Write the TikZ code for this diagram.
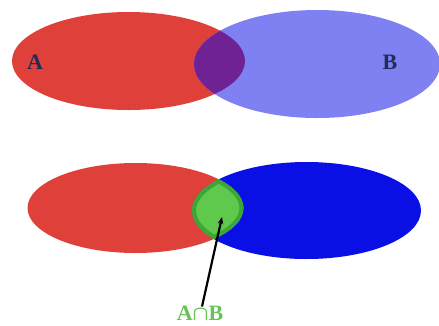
\documentclass[tikz,border=0pt]{standalone}
\usepackage{fontspec}
\setmainfont{Liberation Serif}
\usetikzlibrary{arrows.meta}
\begin{document}
\begin{tikzpicture}[x=1pt,y=-1pt,
  lbl/.style={font=\fontsize{22}{25}\selectfont\bfseries\boldmath, inner sep=0pt},
  arr/.style={-{Stealth[length=7pt,width=5.5pt]}, line width=2.2pt, black}]
\definecolor{cRed}{HTML}{E0403A}
\definecolor{cLBlue}{HTML}{7F80F2}
\definecolor{cPurple}{HTML}{6E2293}
\definecolor{cBlue}{HTML}{0A0FE6}
\definecolor{cGreen}{HTML}{5FC94D}
\definecolor{cDGreen}{HTML}{3EA636}
\definecolor{cNavy}{HTML}{1E2D5A}
\definecolor{cLbl}{HTML}{66C454}
\useasboundingbox[fill=white] (0,0) rectangle (439,325);
% top diagram
\def\redA{(128.5,61) ellipse [x radius=116.5pt, y radius=49pt]}
\def\blueA{(317,64) ellipse [x radius=123pt, y radius=54pt]}
\fill[cRed] \redA;
\fill[cLBlue] \blueA;
\begin{scope}
  \clip \redA;
  \fill[cPurple] \blueA;
\end{scope}
\node[lbl, text=cNavy] (A) at (35,62) {A};
\node[lbl, text=cNavy] (B) at (390,62.5) {B};
% bottom diagram
\def\redB{(135.5,208) ellipse [x radius=108pt, y radius=45pt]}
\def\blueB{(306.5,210.5) ellipse [x radius=114.5pt, y radius=48.5pt]}
\fill[cRed] \redB;
\fill[cBlue] \blueB;
\begin{scope}
  \clip \redB;
  \clip \blueB;
  \fill[cGreen] \blueB;
  \draw[cDGreen, line width=8pt] \blueB;
  \draw[cDGreen, line width=8pt] \redB;
\end{scope}
\node[lbl, text=cLbl] (AB) at (200,313) {A$\cap$B};
\coordinate (tip) at (222,217);
\draw[arr] ([xshift=2pt,yshift=-1pt]AB.north) -- (tip);
\end{tikzpicture}
\end{document}
